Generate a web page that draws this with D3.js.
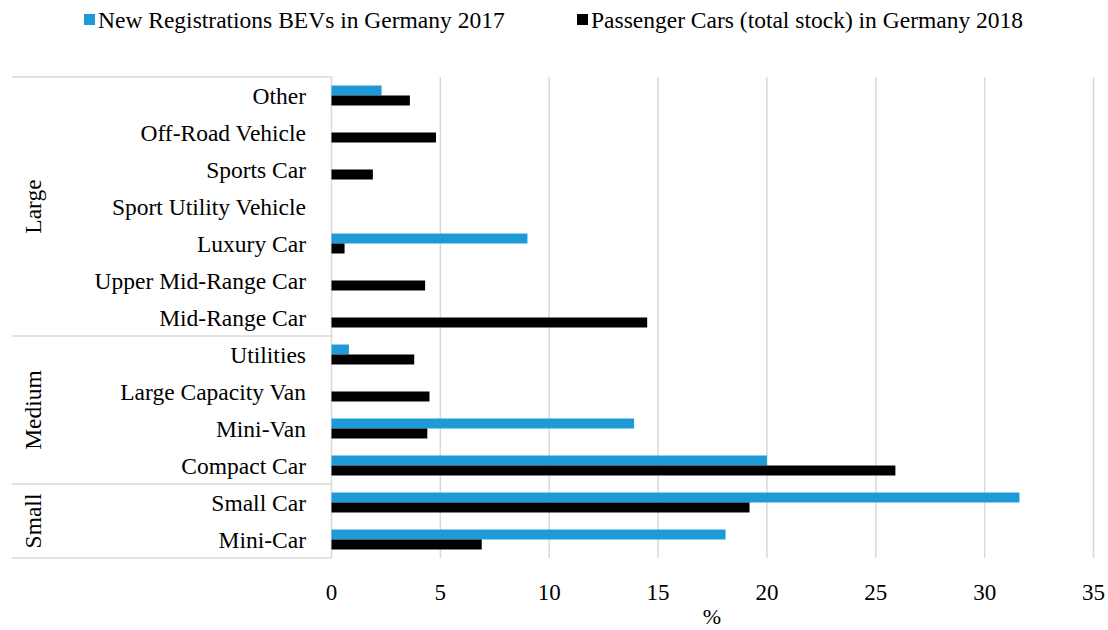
<!DOCTYPE html>
<html>
<head>
<meta charset="utf-8">
<script src="https://cdn.jsdelivr.net/npm/d3@7"></script>
<style>
  html, body { margin: 0; padding: 0; background: #fff; }
  svg { display: block; }
  text { font-family: "Liberation Serif", "Times New Roman", serif; fill: #000; }
</style>
</head>
<body>
<svg id="chart" width="1108" height="630"></svg>
<script>
const categories = ["Other", "Off-Road Vehicle", "Sports Car", "Sport Utility Vehicle", "Luxury Car",
  "Upper Mid-Range Car", "Mid-Range Car", "Utilities", "Large Capacity Van", "Mini-Van",
  "Compact Car", "Small Car", "Mini-Car"];
const bevValues = [2.3, 0, 0, 0, 9.0, 0, 0, 0.8, 0, 13.9, 20.0, 31.6, 18.1];
const stockValues = [3.6, 4.8, 1.9, 0, 0.6, 4.3, 14.5, 3.8, 4.5, 4.4, 25.9, 19.2, 6.9];
const groupNames = ["Large", "Medium", "Small"];
const groupSizes = [7, 4, 2];
const seriesNames = ["New Registrations BEVs in Germany 2017", "Passenger Cars (total stock) in Germany 2018"];
const xTicks = [0, 5, 10, 15, 20, 25, 30, 35];
const xTitle = "%";

const colors = ["#1E9BD7", "#000000"];
const gridColor = "#d9d9d9";

const svg = d3.select("#chart");
const margin = { left: 331.5, right: 1108 - 1093.5, top: 77, bottom: 630 - 558 };
const W = 1108, H = 630;

const x = d3.scaleLinear().domain([0, 35]).range([margin.left, W - margin.right]);
const y = d3.scaleBand().domain(categories).range([margin.top, H - margin.bottom]).paddingInner(0.46).paddingOuter(0.23);
const sub = d3.scaleBand().domain([0, 1]).range([0, y.bandwidth()]);

// gridlines
svg.append("g").selectAll("line").data(xTicks.filter(d => d > 0)).join("line")
  .attr("x1", d => x(d)).attr("x2", d => x(d))
  .attr("y1", margin.top).attr("y2", H - margin.bottom)
  .attr("stroke", gridColor).attr("stroke-width", 1.5);

// category axis line
svg.append("line")
  .attr("x1", x(0)).attr("x2", x(0))
  .attr("y1", margin.top).attr("y2", H - margin.bottom)
  .attr("stroke", gridColor).attr("stroke-width", 1.5);

// group separators
const step = (H - margin.bottom - margin.top) / categories.length;
let boundaries = [0];
groupSizes.forEach(s => boundaries.push(boundaries[boundaries.length - 1] + s));
svg.append("g").selectAll("line").data(boundaries).join("line")
  .attr("x1", 12).attr("x2", x(0))
  .attr("y1", d => margin.top + d * step).attr("y2", d => margin.top + d * step)
  .attr("stroke", gridColor).attr("stroke-width", 1.5);

const fs = "23.5px";

// group labels
svg.append("g").selectAll("text").data(groupNames).join("text")
  .attr("transform", (d, i) => {
    const cy = margin.top + (boundaries[i] + boundaries[i + 1]) / 2 * step;
    return `translate(33,${cy}) rotate(-90)`;
  })
  .attr("text-anchor", "middle").attr("dominant-baseline", "central")
  .style("font-size", fs)
  .text(d => d);

// category labels
svg.append("g").selectAll("text").data(categories).join("text")
  .attr("x", 306)
  .attr("y", d => y(d) + y.bandwidth() / 2)
  .attr("text-anchor", "end").attr("dominant-baseline", "central")
  .style("font-size", fs)
  .text(d => d);

// bars
const series = [bevValues, stockValues];
series.forEach((vals, si) => {
  svg.append("g").selectAll("rect").data(categories.map((c, i) => ({ c, v: vals[i] })).filter(d => d.v > 0)).join("rect")
    .attr("x", x(0))
    .attr("y", d => y(d.c) + sub(si))
    .attr("width", d => x(d.v) - x(0))
    .attr("height", sub.bandwidth())
    .attr("fill", colors[si]);
});

// x axis tick labels
svg.append("g").selectAll("text").data(xTicks).join("text")
  .attr("x", d => x(d)).attr("y", 592)
  .attr("text-anchor", "middle").attr("dominant-baseline", "central")
  .style("font-size", "23px")
  .text(d => d);

svg.append("text").attr("x", 712).attr("y", 616)
  .attr("text-anchor", "middle").attr("dominant-baseline", "central")
  .style("font-size", "22px").text(xTitle);

// legend
const legendX = [84, 577];
seriesNames.forEach((n, i) => {
  svg.append("rect").attr("x", legendX[i]).attr("y", 14).attr("width", 11).attr("height", 11).attr("fill", colors[i]);
  svg.append("text").attr("x", legendX[i] + 14).attr("y", 20)
    .attr("dominant-baseline", "central").style("font-size", fs).text(n);
});
</script>
</body>
</html>
